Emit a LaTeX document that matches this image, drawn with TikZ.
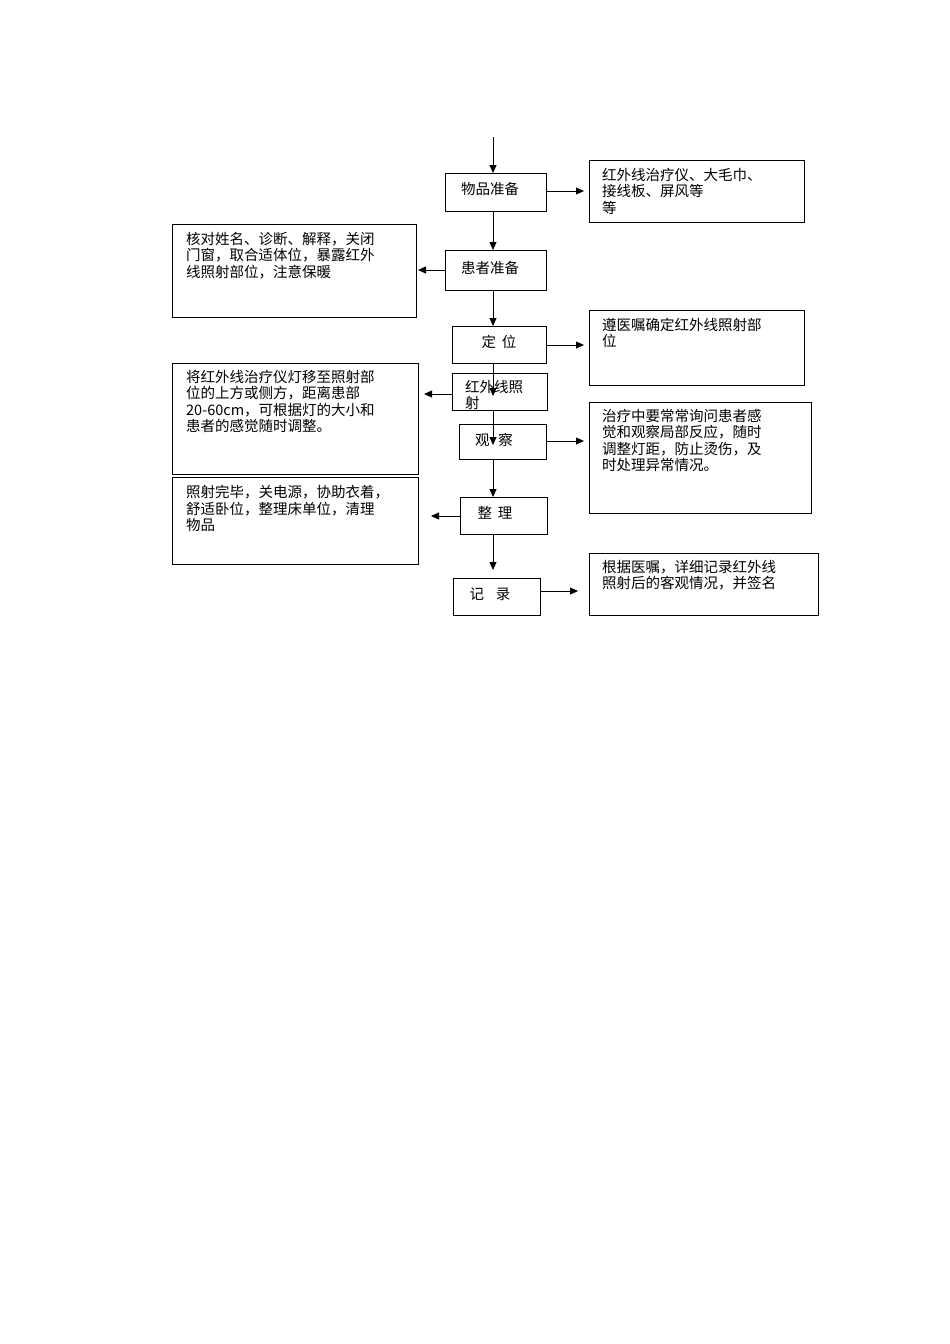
\documentclass[tikz,border=0pt]{standalone}
\usepackage{fontspec}
\setmainfont{Liberation Serif}
\newfontfamily\cjk{Noto Sans CJK SC}
\usetikzlibrary{arrows.meta}
\begin{document}
\begin{tikzpicture}[x=1pt,y=-1pt,
 bx/.style={draw,line width=0.8pt},
 txt/.style={anchor=north west,inner sep=0pt,font=\cjk\fontsize{14.5}{16.5}\selectfont,align=left},
 lbl/.style={font=\cjk\fontsize{14.5}{16.5}\selectfont,inner sep=0pt},
 ar/.style={-{Triangle[length=8pt,width=7pt]},line width=0.8pt}]
\useasboundingbox (0,0) rectangle (950,1344);
% steps
\draw[bx] (445,173) rectangle (546,211); \node[lbl] (s1) at (490,189) {物品准备};
\draw[bx] (445,250) rectangle (546,290); \node[lbl] (s2) at (490,268) {患者准备};
\draw[bx] (452,326) rectangle (546,363); \node[lbl] (s3) at (499,342) {定\hspace{0.4em}位};
\draw[bx] (452,373) rectangle (547,410);
\begin{scope}\clip (452,373) rectangle (547,410);
\node[txt] (s4) at (465,380) {红外线照\\射};\end{scope}
\draw[bx] (459,424) rectangle (546,459); \node[lbl] (s5) at (494,440) {观\hspace{0.6em}察};
\draw[bx] (460,497) rectangle (547,534); \node[lbl] (s6) at (495,513) {整\hspace{0.4em}理};
\draw[bx] (453,578) rectangle (540,615); \node[lbl] (s7) at (490,594) {记\hspace{0.8em}录};
% side boxes
\draw[bx] (589,160) rectangle (804,222);
\node[txt] (r1) at (602,168) {红外线治疗仪、大毛巾、\\接线板、屏风等\\等};
\draw[bx] (172,224) rectangle (416,317);
\node[txt] (l1) at (186,232) {核对姓名、诊断、解释，关闭\\门窗，取合适体位，暴露红外\\线照射部位，注意保暖};
\draw[bx] (589,310) rectangle (804,385);
\node[txt] (r2) at (602,318) {遵医嘱确定红外线照射部\\位};
\draw[bx] (172,363) rectangle (418,474);
\node[txt] (l2) at (186,370) {将红外线治疗仪灯移至照射部\\位的上方或侧方，距离患部\\20-60cm，可根据灯的大小和\\患者的感觉随时调整。};
\draw[bx] (589,402) rectangle (811,513);
\node[txt] (r3) at (602,409) {治疗中要常常询问患者感\\觉和观察局部反应，随时\\调整灯距，防止烫伤，及\\时处理异常情况。};
\draw[bx] (172,477) rectangle (418,564);
\node[txt] (l3) at (186,485) {照射完毕，关电源，协助衣着，\\舒适卧位，整理床单位，清理\\物品};
\draw[bx] (589,553) rectangle (818,615);
\node[txt] (r4) at (602,560) {根据医嘱，详细记录红外线\\照射后的客观情况，并签名};
% arrows
\coordinate (t0) at (493,137);
\draw[ar] (t0) -- (493,173);
\draw[ar] (546,191) -- (584,191);
\draw[ar] (493,211) -- (493,250);
\draw[ar] (445,270) -- (418,270);
\draw[ar] (493,290) -- (493,326);
\draw[ar] (546,345) -- (584,345);
\draw[ar] (493,363) -- (493,396);
\draw[ar] (452,394) -- (424,394);
\draw[ar] (493,410) -- (493,445);
\draw[ar] (546,441) -- (584,441);
\draw[ar] (493,459) -- (493,497);
\draw[ar] (460,516) -- (431,516);
\draw[ar] (493,534) -- (493,570);
\draw[ar] (540,591) -- (578,591);
\end{tikzpicture}
\end{document}
